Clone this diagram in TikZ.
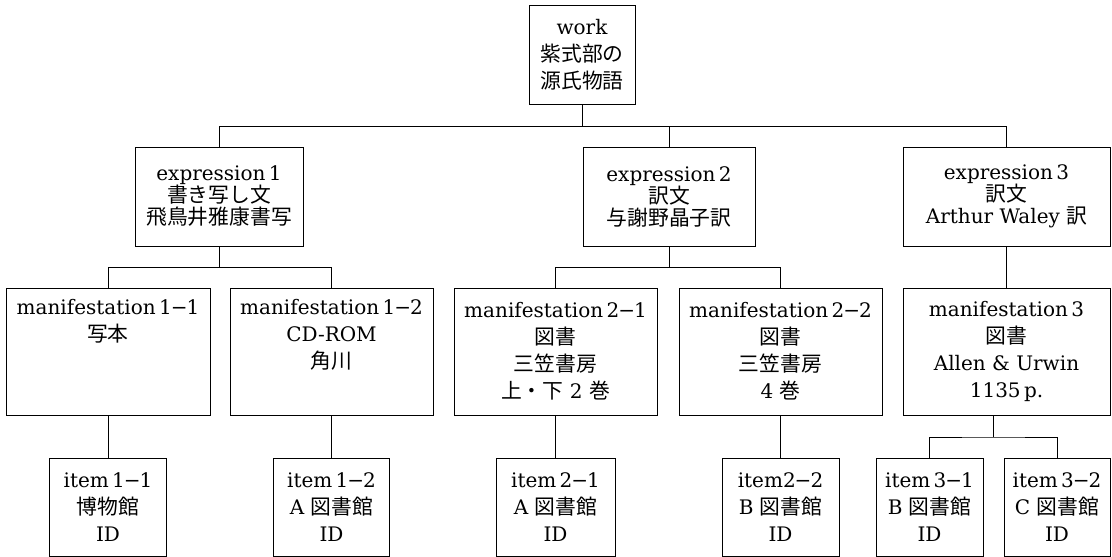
\documentclass[tikz,border=0pt]{standalone}
\usepackage{fontspec}
\setmainfont{DejaVu Serif}
\newfontfamily\cjk[Scale=1.04]{Noto Sans CJK JP}
\newcommand{\jp}[1]{{\cjk #1}}
\newcommand{\dsh}{\kern-1pt−\kern-1pt}
\tikzset{
  box/.style={draw, line width=0.8pt, inner sep=0pt, align=center,
    font=\fontsize{20}{27}\selectfont},
  exbox/.style={box, font=\fontsize{20}{22}\selectfont},
  link/.style={line width=0.8pt}
}
\begin{document}
\begin{tikzpicture}[x=1pt,y=-1pt]
\useasboundingbox (0,0) rectangle (1112,557);
% work
\node[box, minimum width=106pt, minimum height=99pt] (work) at (582,54.5)
  {work\\ \jp{紫式部の}\\ \jp{源氏物語}};
% expressions
\node[exbox, minimum width=168pt, minimum height=99pt] (e1) at (219,196.5)
  {expression\,1\\ \jp{書き写し文}\\ \jp{飛鳥井雅康書写}};
\node[exbox, minimum width=172pt, minimum height=99pt] (e2) at (669,196.5)
  {expression\,2\\ \jp{訳文}\\ \jp{与謝野晶子訳}};
\node[exbox, minimum width=207pt, minimum height=99pt] (e3) at (1006.5,196.5)
  {expression\,3\\ \jp{訳文}\\ Arthur Waley \jp{訳}};
% manifestations
\node[box, minimum width=204pt, minimum height=127pt] (m11) at (108,351.5)
  {manifestation\,1\dsh1\\ \jp{写本}\\ \strut\\ \strut};
\node[box, minimum width=203pt, minimum height=127pt] (m12) at (331.5,351.5)
  {manifestation\,1\dsh2\\ CD-ROM\\ \jp{角川}\\ \strut};
\node[box, minimum width=203pt, minimum height=127pt] (m21) at (555.5,351.5)
  {manifestation\,2\dsh1\\ \jp{図書}\\ \jp{三笠書房}\\ \jp{上・下} 2 \jp{巻}};
\node[box, minimum width=203pt, minimum height=127pt] (m22) at (780.5,351.5)
  {manifestation\,2\dsh2\\ \jp{図書}\\ \jp{三笠書房}\\ 4 \jp{巻}};
\node[box, minimum width=207pt, minimum height=127pt] (m3) at (1006.5,351.5)
  {manifestation\,3\\ \jp{図書}\\ Allen \& Urwin\\ 1135\,p.};
% items
\node[box, minimum width=117pt, minimum height=98pt] (i11) at (108,507)
  {item\,1\dsh1\\ \jp{博物館}\\ ID};
\node[box, minimum width=116pt, minimum height=98pt] (i12) at (331.5,507)
  {item\,1\dsh2\\ A \jp{図書館}\\ ID};
\node[box, minimum width=119pt, minimum height=98pt] (i21) at (555.5,507)
  {item\,2\dsh1\\ A \jp{図書館}\\ ID};
\node[box, minimum width=117pt, minimum height=98pt] (i22) at (780.5,507)
  {item2\dsh2\\ B \jp{図書館}\\ ID};
\node[box, minimum width=107pt, minimum height=98pt] (i31) at (929.5,507)
  {item\,3\dsh1\\ B \jp{図書館}\\ ID};
\node[box, minimum width=106pt, minimum height=98pt] (i32) at (1057,507)
  {item\,3\dsh2\\ C \jp{図書館}\\ ID};
% connectors
\draw[link] (work.south) -- ++(0,22) -| (e1.north);
\draw[link] (work.south) -- ++(0,22) -| (e2.north);
\draw[link] (work.south) -- ++(0,22) -| (e3.north);
\draw[link] (e1.south) -- ++(0,21) -| (m11.north);
\draw[link] (e1.south) -- ++(0,21) -| (m12.north);
\draw[link] (e2.south) -- ++(0,21) -| (m21.north);
\draw[link] (e2.south) -- ++(0,21) -| (m22.north);
\draw[link] (e3.south) -- (m3.north);
\draw[link] (m11.south) -- (i11.north);
\draw[link] (m12.south) -- (i12.north);
\draw[link] (m21.south) -- (i21.north);
\draw[link] (m22.south) -- (i22.north);
\coordinate (j3) at (993.5,437);
\draw[link] (i31.north) |- (j3) -| (i32.north);
\draw[link] (j3) -- (j3 |- m3.south);
\end{tikzpicture}
\end{document}
